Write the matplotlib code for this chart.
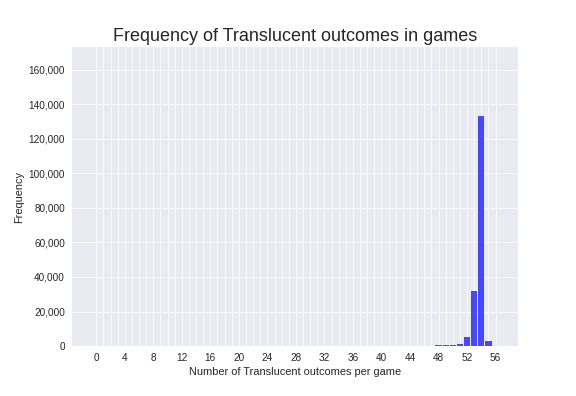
import matplotlib

matplotlib.use("Agg")
import matplotlib.pyplot as plt
from matplotlib.ticker import FuncFormatter

plt.style.use("seaborn-v0_8-darkgrid")
plt.rcParams["font.family"] = ["Liberation Sans", "DejaVu Sans"]

# outcomes per game -> number of games
outcomes = [48, 49, 50, 51, 52, 53, 54, 55]
counts = [600, 700, 800, 1500, 5000, 32000, 133000, 3000]
grid_positions = list(range(0, 57))
label_step = 4


def main():
    fig, ax = plt.subplots(figsize=(8, 5.5), dpi=72)
    fig.subplots_adjust(left=0.125, right=0.9, top=0.881, bottom=0.126)

    ax.bar(outcomes, counts, width=0.88, color="blue", alpha=0.7, zorder=2)

    # a grid line at every integer, labels only on every 4th
    ax.set_xticks(grid_positions)
    ax.set_xticklabels([str(v) if v % label_step == 0 else "" for v in grid_positions])
    ax.set_xlim(-3.4, 59.2)
    ax.set_ylim(0, 173000)
    ax.set_yticks(range(0, 160001, 20000))
    ax.yaxis.set_major_formatter(FuncFormatter(lambda v, _: f"{int(v):,}"))
    ax.tick_params(labelsize=10, pad=7)

    ax.set_xlabel("Number of Translucent outcomes per game", fontsize=11)
    ax.set_ylabel("Frequency", fontsize=11)
    ax.set_title("Frequency of Translucent outcomes in games", fontsize=18)

    fig.savefig("out.png", dpi=72)
    plt.close(fig)


if __name__ == "__main__":
    main()
